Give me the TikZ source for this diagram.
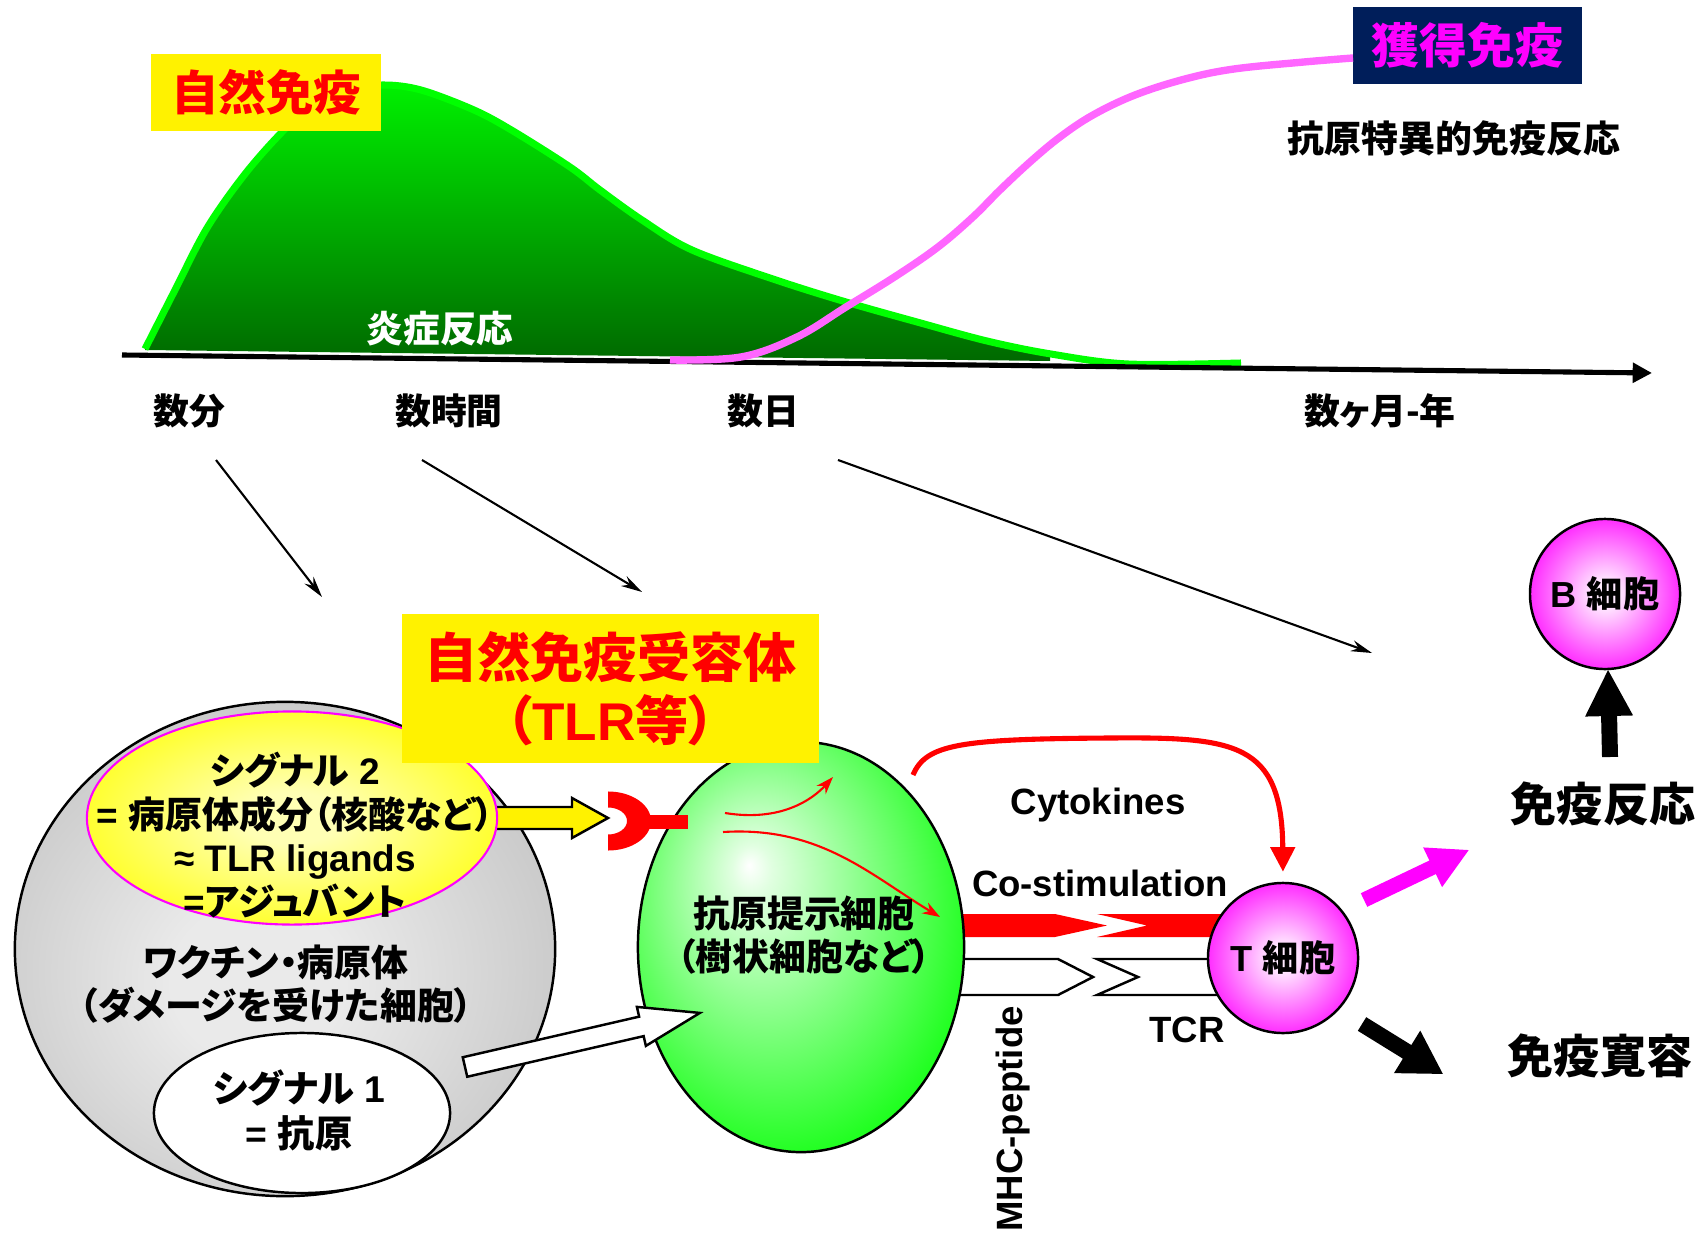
\documentclass[tikz,border=0pt]{standalone}
\usepackage{fontspec}
\setmainfont{Liberation Sans}
\newfontfamily\jp{Noto Sans CJK JP}[RawFeature=+palt]
\usetikzlibrary{arrows.meta,shapes.geometric}

\definecolor{navybox}{RGB}{0,30,90}
\definecolor{pinkcurve}{RGB}{255,102,255}
\definecolor{vivmag}{RGB}{255,0,255}
\definecolor{humpline}{RGB}{0,255,0}
\definecolor{humptop}{RGB}{0,240,0}
\definecolor{humpbot}{RGB}{0,105,0}
\definecolor{apcgreen}{RGB}{30,255,30}
\definecolor{apclight}{RGB}{225,255,225}
\definecolor{cellmag}{RGB}{255,0,255}
\definecolor{celllight}{RGB}{255,235,255}
\definecolor{grayin}{RGB}{234,234,234}
\definecolor{grayout}{RGB}{188,188,188}
\definecolor{yelin}{RGB}{255,255,180}
\definecolor{yelout}{RGB}{255,255,0}

% radial shadings, declared on the usual 100bp square
\pgfdeclareradialshading{apcshade}{\pgfpoint{-8bp}{10bp}}{color(0bp)=(white); color(3bp)=(apclight); color(30bp)=(apcgreen); color(50bp)=(apcgreen)}
\pgfdeclareradialshading{cellshade}{\pgfpoint{0bp}{0bp}}{color(0bp)=(celllight); color(4bp)=(celllight); color(30bp)=(cellmag); color(50bp)=(cellmag)}
\pgfdeclareradialshading{grayshade}{\pgfpoint{-3bp}{-4bp}}{color(0bp)=(grayin); color(8bp)=(grayin); color(36bp)=(grayout); color(50bp)=(grayout)}
\pgfdeclareradialshading{yelshade}{\pgfpoint{0bp}{0bp}}{color(0bp)=(yelin); color(6bp)=(yelin); color(32bp)=(yelout); color(50bp)=(yelout)}

\newcommand\jpfs[2]{\jp\bfseries\fontsize{#1}{#2}\selectfont}
\newcommand\ltfs[2]{\bfseries\fontsize{#1}{#2}\selectfont}

\begin{document}
\begin{tikzpicture}[x=0.01cm,y=-0.01cm,line join=miter,
  lbl/.style={inner sep=0pt,align=center},
  outline/.style={draw=black,line width=0.7pt},
  thinarrow/.style={line width=0.6pt,-{Stealth[length=6pt,width=3.2pt]}},
  redthin/.style={red,line width=0.6pt,-{Stealth[length=5pt,width=3.5pt]}},
  cellnode/.style={circle,minimum size=1.5cm,inner sep=0pt,outline,shade,shading=cellshade}]
\useasboundingbox (0,0) rectangle (1704,1234);

% ---------- time course: innate hump, acquired curve, time axis ----------
\shade[top color=humptop,bottom color=humpbot]
  plot[smooth,tension=0.55] coordinates {(145,349) (175,290) (207,228) (245,174) (283,131) (314,104) (344,90) (383,85) (421,90) (474,110) (513,131) (570,167) (600,190) (642,220) (692,250) (776,280) (846,302) (917,322) (987,341) (1050,356)}
  -- (1050,361) -- (145,350) -- cycle;
\draw[humpline,line width=2pt]
  plot[smooth,tension=0.55] coordinates {(145,349) (175,290) (207,228) (245,174) (283,131) (314,104) (344,90) (383,85) (421,90) (474,110) (513,131) (570,167) (600,190) (642,220) (692,250) (776,280) (846,302) (917,322) (987,341) (1051,354) (1128,364) (1241,363)};

\coordinate (ax0) at (122,355);
\coordinate (ax1) at (1652,373);
\draw[line width=1.45pt,-{Triangle[length=5.5pt,width=5.5pt]}] (ax0) -- (ax1);

\node[fill=navybox,minimum width=2.29cm,minimum height=0.77cm,inner sep=0pt,text=vivmag,font=\jpfs{13.6}{15}] (acqbox) at (1467.5,45.5) {獲得免疫};
\draw[pinkcurve,line width=2.1pt]
  plot[smooth,tension=0.6] coordinates {(670,360) (741,357) (797,337) (846,307) (896,276) (938,247) (973,217) (1000,190) (1030,162) (1060,137) (1093,115) (1135,95) (1185,79) (1234,69) (1304,62) (1353,58)};

\node[fill=yellow,minimum width=2.30cm,minimum height=0.77cm,inner sep=0pt,text=red,font=\jpfs{13.5}{15}] (innbox) at (266,92.5) {自然免疫};
\node[lbl,font=\jpfs{10.5}{12}] (specific) at (1454,138) {抗原特異的免疫反応};
\node[lbl,text=white,font=\jpfs{10.4}{12}] (inflam) at (440,329) {炎症反応};

\node[lbl,font=\jpfs{10.2}{12}] (tmin) at (189,411) {数分};
\node[lbl,font=\jpfs{10.2}{12}] (thour) at (449,411) {数時間};
\node[lbl,font=\jpfs{10.2}{12}] (tday) at (763,411) {数日};
\node[lbl,font=\jpfs{10.2}{12}] (tmonth) at (1380,411) {数ヶ月-年};

% ---------- pointers from the time scale ----------
\coordinate (p1s) at (216,460);  \coordinate (p1e) at (322,597);
\coordinate (p2s) at (422,460);  \coordinate (p2e) at (642,592);
\coordinate (p3s) at (838,460);  \coordinate (p3e) at (1372,653);
\draw[thinarrow] (p1s) -- (p1e);
\draw[thinarrow] (p2s) -- (p2e);
\draw[thinarrow] (p3s) -- (p3e);

% ---------- vaccine / pathogen ----------
\node[ellipse,minimum width=5.40cm,minimum height=4.94cm,inner sep=0pt,outline,shade,shading=grayshade] (vacc) at (285,949) {};
\node[ellipse,minimum width=2.96cm,minimum height=1.60cm,inner sep=0pt,outline,fill=white] (sigone) at (302,1113) {};

% signal 2 arrow towards the receptor
\filldraw[fill=yellow,outline] (480,807) -- (572,807) -- (572,798) -- (608,818) -- (572,838) -- (572,829) -- (480,829) -- cycle;
\node[ellipse,minimum width=4.10cm,minimum height=2.13cm,inner sep=0pt,draw=vivmag,line width=0.6pt,shade,shading=yelshade] (sigtwo) at (292,818) {};

% ---------- signals between APC and T cell ----------
\fill[red] (950,914) -- (1055,914) -- (1107,925.5) -- (1055,937) -- (950,937) -- cycle;
\fill[red] (1097,914) -- (1147,925.5) -- (1097,937) -- (1240,937) -- (1240,914) -- cycle;
\filldraw[fill=white,outline] (950,959) -- (1058,959) -- (1093,977) -- (1058,995) -- (950,995) -- cycle;
\filldraw[fill=white,outline] (1097,959) -- (1138,977) -- (1097,995) -- (1240,995) -- (1240,959) -- cycle;

% ---------- antigen presenting cell ----------
\node[ellipse,minimum width=3.26cm,minimum height=4.10cm,inner sep=0pt,outline,shade,shading=apcshade] (apc) at (801,947) {};
\coordinate (r1s) at (725,813); \coordinate (r1e) at (833,777);
\coordinate (r2s) at (723,832); \coordinate (r2e) at (940,917);
\draw[redthin] (r1s) .. controls (780,822) and (812,800) .. (r1e);
\draw[redthin] (r2s) .. controls (820,826) and (870,875) .. (r2e);

% TLR receptor: half ring with a stem
\begin{scope}
  \clip (608,780) rectangle (660,860);
  \fill[red,even odd rule] (608,821) ellipse [x radius=0.43cm,y radius=0.295cm]
                           (608,821) ellipse [x radius=0.19cm,y radius=0.135cm];
\end{scope}
\fill[red] (645,815) rectangle (688,829);

\node[fill=yellow,minimum width=4.17cm,minimum height=1.49cm,inner sep=0pt,text=red,align=center,font=\jpfs{15.1}{17.9}] (tlrbox) at (610.5,688.5) {自然免疫受容体\\（{\rmfamily TLR}等）};

% signal 1 arrow (antigen) into the APC
\coordinate (a1tail) at (465,1067);
\begin{scope}[shift={(a1tail)},rotate=12.97]
  \filldraw[fill=white,outline] (0,-10) -- (181,-10) -- (181,-20) -- (241,0) -- (181,20) -- (181,10) -- (0,10) -- cycle;
\end{scope}

% texts in the left ellipses and the APC
\node[lbl,font=\ltfs{10.5}{12.5}] (sigtwotxt) at (295,835) {{\jp シグナル} 2\\= {\jp 病原体成分（核酸など）}\\≈ TLR ligands\\={\jp アジュバント}};
\node[lbl,font=\jpfs{10.5}{12.2}] (vacctxt) at (276,984) {ワクチン・病原体\\（ダメージを受けた細胞）};
\node[lbl,font=\ltfs{10.6}{12.8}] (sigonetxt) at (299,1110) {{\jp シグナル} 1\\= {\jp 抗原}};
\node[lbl,font=\jpfs{10.5}{12}] (apctxt) at (804,935) {抗原提示細胞\\（樹状細胞など）};

% ---------- T cell and its signals ----------
\node[cellnode,font=\ltfs{10.3}{12}] (tcell) at (1283,958) {T {\jp 細胞}};
\coordinate (cyto0) at (913,775);
\coordinate (cytotop) at (1110,738);
\draw[red,line width=1.45pt,shorten >=0.1cm,-{Triangle[length=7pt,width=6.8pt]}]
  (cyto0) .. controls (926,744) and (960,739) .. (cytotop)
          .. controls (1235,737) and (1282,742) .. (tcell.north);

\node[lbl,font=\ltfs{10.4}{12}] (cytolbl) at (1098,805) {Cytokines};
\node[lbl,font=\ltfs{10.4}{12}] (costlbl) at (1100,883) {Co-stimulation};
\node[lbl,font=\ltfs{10.4}{12}] (tcrlbl) at (1187,1030) {TCR};
\node[lbl,font=\ltfs{10.4}{12},rotate=90] (mhclbl) at (1013,1119) {MHC-peptide};

% ---------- outcomes ----------
\node[cellnode,font=\ltfs{10.3}{12}] (bcell) at (1605,594) {B {\jp 細胞}};
\node[lbl,font=\jpfs{13.1}{15}] (resp) at (1603,804) {免疫反応};
\node[lbl,font=\jpfs{13.1}{15}] (toler) at (1600,1056) {免疫寛容};

\coordinate (upTail) at (1610,757);
\begin{scope}[shift={(upTail)},rotate=91.3]
  \fill[black] (0,-8) -- (41,-8) -- (41,-24) -- (87,0) -- (41,24) -- (41,8) -- (0,8) -- cycle;
\end{scope}
\coordinate (magTail) at (1364,900);
\begin{scope}[shift={(magTail)},rotate=25.5]
  \fill[vivmag] (0,-7.5) -- (76,-7.5) -- (76,-22) -- (116,0) -- (76,22) -- (76,7.5) -- (0,7.5) -- cycle;
\end{scope}
\coordinate (tolTail) at (1362,1024);
\begin{scope}[shift={(tolTail)},rotate=-31.7]
  \fill[black] (0,-8) -- (53,-8) -- (53,-25) -- (95,0) -- (53,25) -- (53,8) -- (0,8) -- cycle;
\end{scope}
\end{tikzpicture}
\end{document}
